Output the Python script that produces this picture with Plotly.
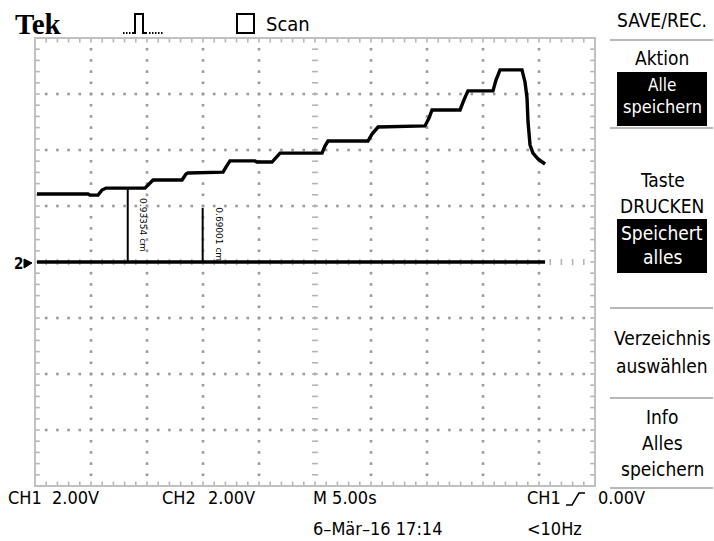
import plotly.graph_objects as go

# ---------------- data ----------------
# CH1 staircase trace (time in s, voltage in V)
ch1_t = [0.18, 4.73, 4.91, 5.63, 5.98, 6.34, 9.82, 10.18, 10.54, 13.13, 13.48, 13.66,
         16.79, 17.05, 17.41, 19.64, 19.82, 21.16, 21.52, 21.88, 25.63, 25.89, 26.16,
         29.73, 30.09, 30.63, 34.82, 35.18, 35.45, 37.95, 38.30, 38.66, 40.89, 41.16,
         41.52, 43.48, 43.75, 43.93, 44.02, 44.20, 44.46, 44.91, 45.54]
ch1_v = [2.43, 2.43, 2.39, 2.39, 2.57, 2.64, 2.64, 2.79, 2.93, 2.93, 3.14, 3.18,
         3.21, 3.39, 3.61, 3.61, 3.57, 3.57, 3.75, 3.89, 3.89, 4.14, 4.32,
         4.32, 4.57, 4.82, 4.86, 5.14, 5.43, 5.43, 5.79, 6.11, 6.11, 6.50,
         6.86, 6.86, 6.43, 5.86, 5.00, 4.18, 3.89, 3.68, 3.50]
# CH2 trace (flat at ground)
ch2_t = [0.18, 45.54]
ch2_v = [0.0, 0.0]

# measurement markers
marker_t = [8.28, 14.97]
marker_top = [2.64, 1.93]
marker_labels = ["0.93354 cm", "0.69001 cm"]
marker_label_t = [9.64, 16.45]
marker_label_v = [1.32, 0.98]

# scope settings / screen texts
t_range = [0, 50]
v_range = [-8, 8]
bottom_row1 = ["CH1", "2.00V", "CH2", "2.00V", "M 5.00s", "CH1", "0.00V"]
bottom_row2 = ["6\u2013M\u00e4r\u201316 17:14", "<10Hz"]
menu_title = "SAVE/REC."
menu_plain = ["Aktion", "Taste", "DRUCKEN", "Verzeichnis", "ausw\u00e4hlen", "Info", "Alles", "speichern"]
menu_inverted = ["Alle", "speichern", "Speichert", "alles"]

# ---------------- layout helpers ----------------
L, R, T, B = 35, 595, 38, 486
def PX(x): return (x - L) / (R - L)
def PY(y): return (B - y) / (B - T)

FONT = "DejaVu Sans Condensed, Liberation Sans Narrow, Liberation Sans, sans-serif"
GRID = "#9a9a9a"
BORDER = "#c0c0c0"

fig = go.Figure()

# ---- graticule dots
minor_t = [i * 1.0 for i in range(0, 51)]
minor_v = [round(-8 + 0.4 * i, 2) for i in range(0, 41)]
dx, dy = [], []
for tv in [5, 10, 15, 20, 30, 35, 40, 45]:
    for vv in minor_v[1:-1]:
        dx.append(tv); dy.append(vv)
for vv in [-6, -4, -2, 2, 4, 6]:
    for tv in minor_t[1:-1]:
        dx.append(tv); dy.append(vv)
fig.add_trace(go.Scatter(x=dx, y=dy, mode="markers", hoverinfo="skip",
                         marker=dict(symbol="square", size=2.6, color=GRID, line=dict(width=0))))

# ---- center cross dashes and border ticks
tx, ty = [], []
for vv in minor_v[1:-1]:
    tx += [25 - 0.27, 25 + 0.27, None]; ty += [vv, vv, None]
    tx += [0, 0.42, None]; ty += [vv, vv, None]
    tx += [50 - 0.42, 50, None]; ty += [vv, vv, None]
for tv in minor_t[1:-1]:
    tx += [tv, tv, None]; ty += [-0.11, 0.11, None]
    tx += [tv, tv, None]; ty += [8, 8 - 0.16, None]
    tx += [tv, tv, None]; ty += [-8, -8 + 0.16, None]
fig.add_trace(go.Scatter(x=tx, y=ty, mode="lines", hoverinfo="skip",
                         line=dict(color="#b4b4b4", width=1.6)))

# ---- traces
fig.add_trace(go.Scatter(x=ch2_t, y=ch2_v, mode="lines", line=dict(color="black", width=3.5)))
fig.add_trace(go.Scatter(x=ch1_t, y=ch1_v, mode="lines", line=dict(color="black", width=3.4)))

# ---- measurement markers
for t, top in zip(marker_t, marker_top):
    fig.add_trace(go.Scatter(x=[t, t], y=[0, top], mode="lines", line=dict(color="black", width=2)))

annotations = []
for lab, t, v in zip(marker_labels, marker_label_t, marker_label_v):
    annotations.append(dict(x=t, y=v, xref="x", yref="y", text=lab, textangle=90, showarrow=False,
                            xanchor="center", yanchor="middle",
                            font=dict(family="DejaVu Sans, sans-serif", size=9, color="black")))

shapes = [dict(type="rect", xref="paper", yref="paper", x0=0, x1=1, y0=0, y1=1,
               line=dict(color=BORDER, width=2), layer="above")]

def txt(s, x, y, size=18, color="black", xanchor="center", family=FONT, weight="normal"):
    annotations.append(dict(x=PX(x), y=PY(y), xref="paper", yref="paper", text=s, showarrow=False,
                            xanchor=xanchor, yanchor="middle",
                            font=dict(family=family, size=size, color=color, weight=weight)))

# ---- header
txt("Tek", 13, 24, size=29, xanchor="left", family="Liberation Serif, DejaVu Serif, serif", weight="bold")
# pulse icon
shapes.append(dict(type="path", xref="paper", yref="paper",
                   path=f"M {PX(132)},{PY(33)} L {PX(135)},{PY(33)} L {PX(135)},{PY(14)} L {PX(143)},{PY(14)} "
                        f"L {PX(143)},{PY(33)} L {PX(147)},{PY(33)}",
                   line=dict(color="black", width=2)))
for xx in [123, 126, 129, 149, 152, 155, 158, 161]:
    shapes.append(dict(type="rect", xref="paper", yref="paper", x0=PX(xx), x1=PX(xx + 1.5),
                       y0=PY(34), y1=PY(32), line=dict(width=0), fillcolor="black"))
# scan checkbox
shapes.append(dict(type="rect", xref="paper", yref="paper", x0=PX(237), x1=PX(254), y0=PY(33), y1=PY(14),
                   line=dict(color="black", width=2), fillcolor="white"))
txt("Scan", 264, 24, size=20, xanchor="left")

# ---- ground marker "2 ->"
txt("2", 12, 264, size=15, xanchor="left", weight="bold")
shapes.append(dict(type="path", xref="paper", yref="paper",
                   path=f"M {PX(24)},{PY(259)} L {PX(32)},{PY(263)} L {PX(24)},{PY(268)} Z",
                   fillcolor="black", line=dict(color="black", width=1)))

# ---- right menu
sep_y = [40, 128, 308, 398, 488]
for yy in sep_y:
    shapes.append(dict(type="line", xref="paper", yref="paper", x0=PX(610), x1=PX(713), y0=PY(yy), y1=PY(yy),
                       line=dict(color="#b8b8b8", width=2)))
for (y0, y1) in [(72, 126), (219, 273)]:
    shapes.append(dict(type="rect", xref="paper", yref="paper", x0=PX(617), x1=PX(707), y0=PY(y1), y1=PY(y0),
                       fillcolor="black", line=dict(width=0)))
MX = 662
txt(menu_title, MX, 20, size=19)
for s, y in zip(menu_plain, [58, 180, 206, 338, 366, 417, 443, 469]):
    txt(s, MX, y, size=19)
for s, y, sz in zip(menu_inverted, [85, 107, 233, 257], [17, 18, 19, 19]):
    txt(s, MX, y, size=sz, color="white")

# ---- bottom status
for s, x in zip(bottom_row1, [6, 50, 160, 206, 311, 525, 596]):
    txt(s, x, 498, size=18, xanchor="left")
shapes.append(dict(type="path", xref="paper", yref="paper",
                   path=f"M {PX(566)},{PY(505)} L {PX(572)},{PY(505)} L {PX(579)},{PY(493)} L {PX(585)},{PY(493)}",
                   line=dict(color="black", width=1.5)))
for s, x in zip(bottom_row2, [311, 525]):
    txt(s, x, 528, size=18, xanchor="left")

fig.update_layout(
    width=714, height=541,
    margin=dict(l=L, r=714 - R, t=T, b=541 - B),
    paper_bgcolor="white", plot_bgcolor="white",
    showlegend=False,
    xaxis=dict(range=t_range, visible=False, fixedrange=True),
    yaxis=dict(range=v_range, visible=False, fixedrange=True),
    annotations=annotations, shapes=shapes,
)

fig.write_html("out.html")
